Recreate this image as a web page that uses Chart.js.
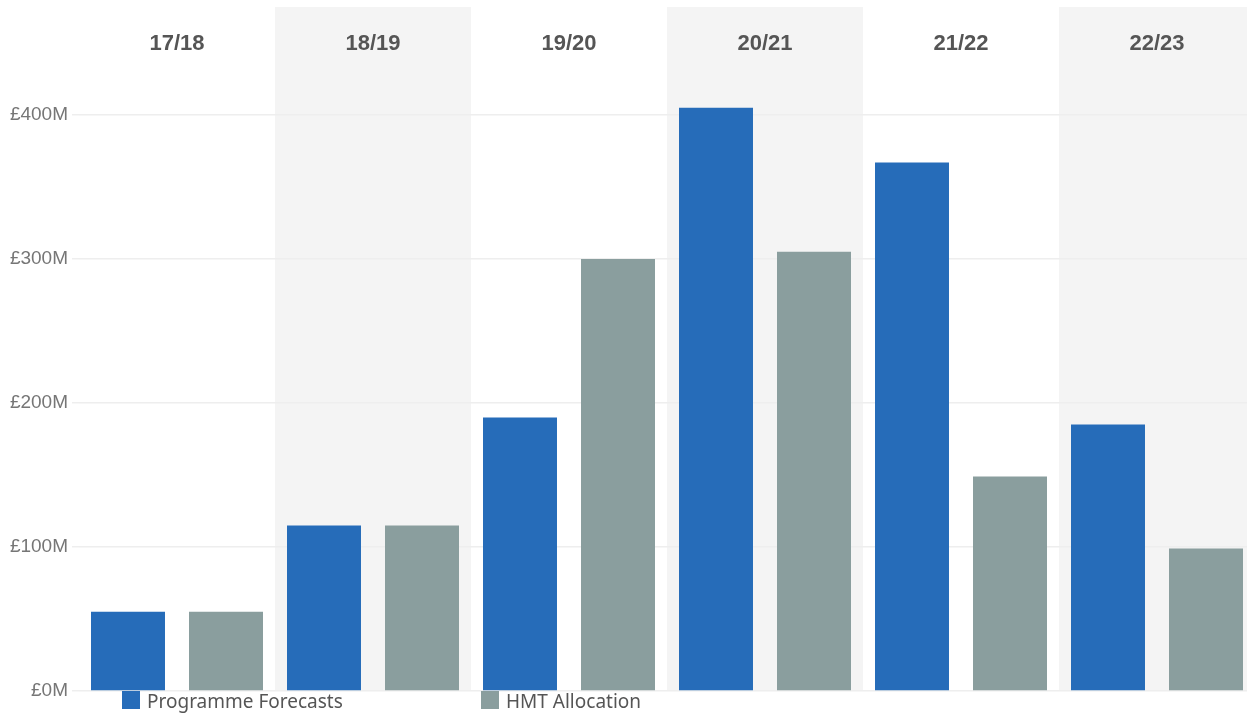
<!DOCTYPE html>
<html>
<head>
<meta charset="utf-8">
<script src="https://cdn.jsdelivr.net/npm/chart.js@4.4.1/dist/chart.umd.min.js"></script>
<style>
  html, body { margin: 0; padding: 0; background: #fff; overflow: hidden; }
  #wrap { width: 1255px; height: 713px; }
</style>
</head>
<body>
<div id="wrap"><canvas id="myChart" width="1255" height="713"></canvas></div>
<script>
const categories = ['17/18', '18/19', '19/20', '20/21', '21/22', '22/23'];
const programmeForecasts = [55, 115, 190, 405, 367, 185];
const hmtAllocation = [55, 115, 300, 305, 149, 99];
const yTickValues = [0, 100, 200, 300, 400];
const seriesNames = ['Programme Forecasts', 'HMT Allocation'];
const seriesColours = ['#266cb9', '#8a9e9e'];

const ctx = document.getElementById('myChart');

// white page, alternating grey column bands, year headers
const bandsPlugin = {
    id: 'bands',
    beforeDraw(chart) {
        const c = chart.ctx;
        const area = chart.chartArea;
        const x = chart.scales.x;
        c.save();
        c.fillStyle = '#ffffff';
        c.fillRect(0, 0, chart.width, chart.height);
        chart.data.labels.forEach(function (label, i) {
            const left = x.getPixelForValue(i - 0.5);
            const right = x.getPixelForValue(i + 0.5);
            if (i % 2 === 1) {
                c.fillStyle = '#f4f4f4';
                c.fillRect(left, area.top, right - left, area.bottom - area.top);
            }
            c.fillStyle = '#555555';
            c.font = 'bold 22px "Liberation Sans", Arial, sans-serif';
            c.textAlign = 'center';
            c.textBaseline = 'middle';
            c.fillText(label, (left + right) / 2, 44);
        });
        c.restore();
    }
};

// Tableau style legend under the plot
const legendPlugin = {
    id: 'bottomLegend',
    afterDraw(chart) {
        const c = chart.ctx;
        const starts = [122, 481];
        c.save();
        chart.data.datasets.forEach(function (ds, i) {
            c.fillStyle = ds.backgroundColor;
            c.fillRect(starts[i], 691, 18, 18);
            c.fillStyle = '#555555';
            c.font = '19px "Noto Sans", sans-serif';
            c.textAlign = 'left';
            c.textBaseline = 'alphabetic';
            c.fillText(ds.label, starts[i] + 25, 708);
        });
        c.restore();
    }
};

new Chart(ctx, {
    type: 'bar',
    data: {
        labels: categories,
        datasets: [{
            label: seriesNames[0],
            data: programmeForecasts,
            backgroundColor: seriesColours[0],
            categoryPercentage: 1.0,
            barPercentage: 0.755
        }, {
            label: seriesNames[1],
            data: hmtAllocation,
            backgroundColor: seriesColours[1],
            categoryPercentage: 1.0,
            barPercentage: 0.755
        }]
    },
    options: {
        responsive: false,
        animation: false,
        layout: {
            padding: { top: 7, bottom: 22, left: 0, right: 0 }
        },
        plugins: {
            legend: { display: false },
            tooltip: { enabled: false }
        },
        scales: {
            x: {
                display: false,
                grid: { display: false }
            },
            y: {
                min: 0,
                max: 475,
                afterBuildTicks: function (scale) {
                    scale.ticks = yTickValues.map(function (v) { return { value: v }; });
                },
                afterFit: function (scale) {
                    scale.width = 79;
                    scale.paddingTop = 0;
                    scale.paddingBottom = 0;
                },
                border: { display: false },
                grid: {
                    color: '#eeeeee',
                    lineWidth: 1.5,
                    tickLength: 7,
                    drawOnChartArea: true
                },
                ticks: {
                    padding: 4,
                    color: '#767676',
                    font: { family: '"Liberation Sans", Arial, sans-serif', size: 19 },
                    callback: function (value) {
                        return '£' + value + 'M';
                    }
                }
            }
        }
    },
    plugins: [bandsPlugin, legendPlugin]
});
</script>
</body>
</html>
